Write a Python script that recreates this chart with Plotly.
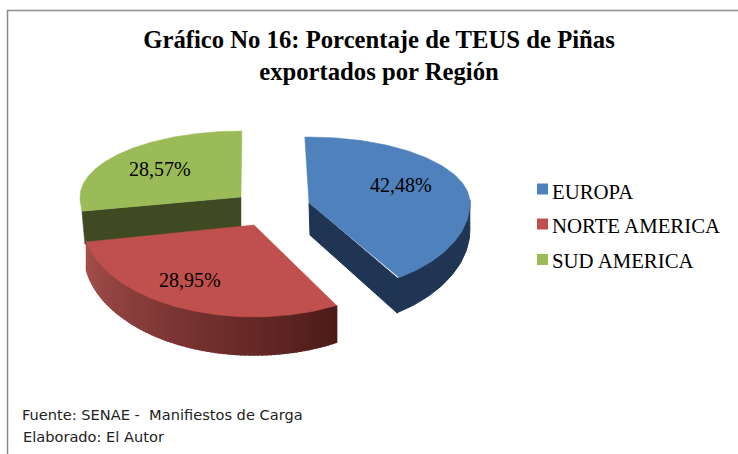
import numpy as np
import plotly.graph_objects as go

categories = ["EUROPA", "NORTE AMERICA", "SUD AMERICA"]
percentages = [42.48, 28.95, 28.57]
top_colors = ["#4F81BD", "#C0504D", "#9BBB59"]
side_colors = ["#1F3553", "#8A3A38", "#3F4A22"]
title_lines = ["Gráfico No 16: Porcentaje de TEUS de Piñas", "exportados por Región"]
footer_lines = ["Fuente: SENAE -  Manifiestos de Carga", "Elaborado: El Autor"]

W, H = 738, 454
centers = {"EUROPA": (309, 203), "NORTE AMERICA": (254, 225), "SUD AMERICA": (241, 197)}
label_pos = {"EUROPA": (401, 185), "NORTE AMERICA": (190, 280), "SUD AMERICA": (160, 169)}
legend_marker_y = {"EUROPA": 189, "NORTE AMERICA": 224, "SUD AMERICA": 259.5}
legend_text_y = {"EUROPA": 191, "NORTE AMERICA": 225, "SUD AMERICA": 260}
radius_x = {"EUROPA": 161, "NORTE AMERICA": 170, "SUD AMERICA": 161}
radius_front = {"EUROPA": 90, "NORTE AMERICA": 92, "SUD AMERICA": 92}
# small angular corrections (degrees) for the perspective of the 3-D view
perspective = {"EUROPA": (-1.5, -6), "NORTE AMERICA": (-2, 3), "SUD AMERICA": (4, 1)}
RY_BACK = 66


def rim(cx, cy, theta, rx, ry_front):
    s = np.sin(theta)
    ry = np.where(s > 0, ry_front, RY_BACK)
    return cx + rx * np.cos(theta), cy + ry * s


def depth(theta):
    return 28 + 10 * np.clip(np.sin(theta), 0, 1)


def lerp_color(c1, c2, t):
    a = [int(c1[i:i + 2], 16) for i in (1, 3, 5)]
    b = [int(c2[i:i + 2], 16) for i in (1, 3, 5)]
    return "rgb(%d,%d,%d)" % tuple(round(p + (q - p) * t) for p, q in zip(a, b))


def poly(x, y, color, name=None, lw=0.5):
    x, y = [float(v) for v in x], [float(v) for v in y]
    return go.Scatter(x=x + [x[0]], y=y + [y[0]], mode="lines", fill="toself",
                      fillcolor=color, line=dict(color=color, width=lw),
                      hoverinfo="skip" if name is None else "name", name=name or "",
                      showlegend=False)


# slice angles (clockwise from the top), taken from the percentages
edges = np.deg2rad(-90 + 360 * np.cumsum([0] + percentages) / sum(percentages))
spans = {}
for i, c in enumerate(categories):
    d0, d1 = perspective[c]
    spans[c] = (edges[i] + np.deg2rad(d0), edges[i + 1] + np.deg2rad(d1))

fig = go.Figure()
for cat in ["SUD AMERICA", "NORTE AMERICA", "EUROPA"]:
    i = categories.index(cat)
    cx, cy = centers[cat]
    rx, rf = radius_x[cat], radius_front[cat]
    a0, a1 = spans[cat]
    th = np.linspace(a0, a1, 600)
    side = side_colors[i]
    if cat == "SUD AMERICA":
        ex, ey = rim(cx, cy, np.array(a0), rx, rf)
        fig.add_trace(poly([cx, ex, ex + 3, cx], [cy, ey, ey + 33, cy + 30], side))
    if cat == "EUROPA":
        front = th[np.sin(th) > -0.05][::5]
        x, y = rim(cx, cy, front, rx, rf)
        d = depth(front) - 2
        fig.add_trace(poly(list(x) + list(x[::-1]), list(y) + list((y + d)[::-1]), side, lw=1))
        ex, ey = x[-1], y[-1]
        fig.add_trace(poly([cx, ex, ex, cx + 1], [cy, ey, ey + 35, cy + 32], side, lw=1))
    if cat == "NORTE AMERICA":
        front = th[np.sin(th) > -0.05]
        n = 80
        parts = np.array_split(front, n)
        for k, p in enumerate(parts):
            p = np.append(p, parts[k + 1][0]) if k + 1 < n else p
            x, y = rim(cx, cy, p, rx, rf)
            d = depth(p)
            col = lerp_color("#4C1A18", "#A54F4C", (k / (n - 1)) ** 0.9)
            fig.add_trace(poly(list(x) + list(x[::-1]), list(y) + list((y + d)[::-1]), col, lw=1.5))
    x, y = rim(cx, cy, th[::5], rx, rf)
    fig.add_trace(poly([cx] + list(x), [cy] + list(y), top_colors[i], name=cat))

# legend entries
for cat, col in zip(categories, top_colors):
    fig.add_trace(go.Scatter(x=[542.5], y=[legend_marker_y[cat]], mode="markers", name=cat,
                             showlegend=False, hoverinfo="name",
                             marker=dict(symbol="square", size=11, color=col)))
    fig.add_annotation(x=550, y=legend_text_y[cat], xref="x", yref="y", showarrow=False, xanchor="left",
                       text=cat, font=dict(family="Liberation Serif", size=20.8, color="#000000"))

for cat, pct in zip(categories, percentages):
    lx, ly = label_pos[cat]
    fig.add_annotation(x=lx, y=ly, xref="x", yref="y", showarrow=False,
                       text=f"{pct:.2f}%".replace(".", ","),
                       font=dict(family="Liberation Serif", size=20, color="#000000"))

for (fx, fy), line in zip([(20, 414), (21, 436)], footer_lines):
    fig.add_annotation(x=fx, y=fy, xref="x", yref="y", showarrow=False, xanchor="left",
                       text=line, font=dict(family="DejaVu Sans", size=14.6, color="#222222"))

fig.update_layout(
    width=W, height=H, margin=dict(l=0, r=0, t=0, b=0), autosize=False,
    paper_bgcolor="white", plot_bgcolor="white", showlegend=False,
    title=dict(text="<br>".join(f"<b>{t}</b>" for t in title_lines), x=379 / W, xanchor="center",
               y=1 - 48 / H, yanchor="top",
               font=dict(family="Liberation Serif", size=24.7, color="#000000")),
    xaxis=dict(range=[0, W], visible=False, fixedrange=True),
    yaxis=dict(range=[H, 0], visible=False, fixedrange=True),
    shapes=[
        dict(type="line", xref="paper", yref="paper", x0=7.5 / W, x1=7.5 / W, y0=0, y1=1 - 10 / H,
             line=dict(color="#8C8C8C", width=1.5)),
        dict(type="line", xref="paper", yref="paper", x0=7 / W, x1=1, y0=1 - 10.5 / H, y1=1 - 10.5 / H,
             line=dict(color="#8C8C8C", width=1.5)),
    ],
)

fig.write_html("out.html", config={"displayModeBar": False},
               post_script="document.body.style.margin='0';")
